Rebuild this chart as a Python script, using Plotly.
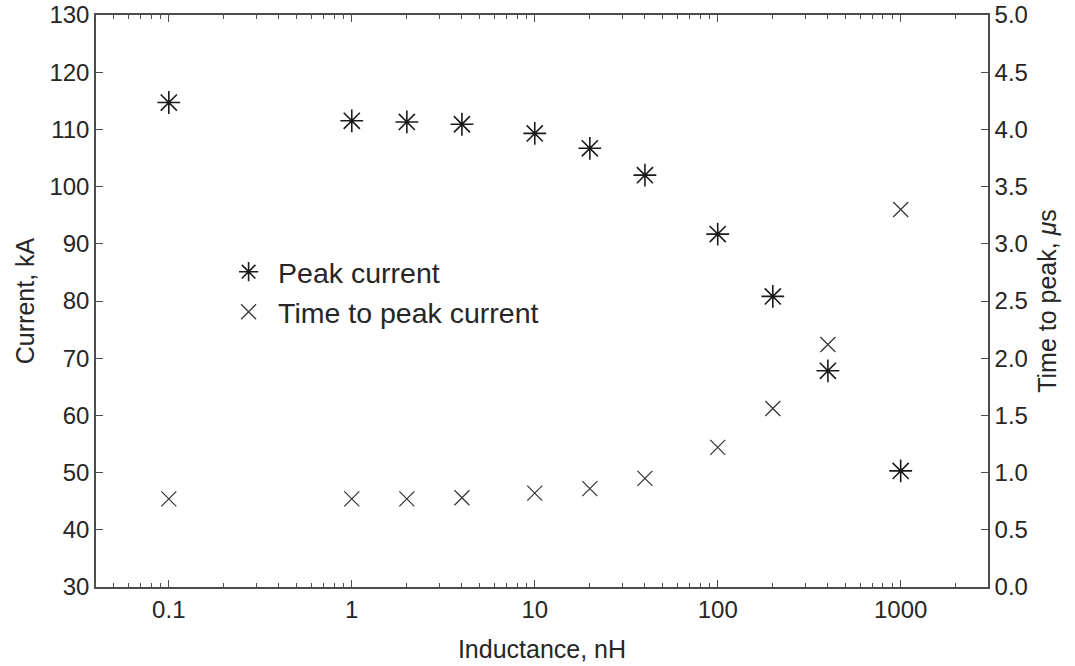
import plotly.graph_objects as go
import math

inductance = [0.1, 1, 2, 4, 10, 20, 40, 100, 200, 400, 1000]
peak_current = [114.7, 111.5, 111.3, 110.9, 109.3, 106.7, 102.0, 91.7, 80.8, 67.8, 50.3]
time_to_peak = [0.77, 0.77, 0.77, 0.78, 0.82, 0.86, 0.95, 1.22, 1.56, 2.12, 3.30]

x_ticks = [0.1, 1, 10, 100, 1000]
x_ticklabels = ["0.1", "1", "10", "100", "1000"]

axis_col = "#4d4d4d"
text_col = "#262626"
font_family = "Liberation Sans, Arial, sans-serif"

fig = go.Figure()
fig.add_trace(go.Scatter(
    x=inductance, y=peak_current, mode="markers", name="Peak current",
    marker=dict(symbol="asterisk-open", size=19, color="#1a1a1a",
                line=dict(width=1.6, color="#1a1a1a")),
    yaxis="y"))
fig.add_trace(go.Scatter(
    x=inductance, y=time_to_peak, mode="markers", name="Time to peak current",
    marker=dict(symbol="x-thin-open", size=15, color="#333333",
                line=dict(width=1.2, color="#333333")),
    yaxis="y2"))

fig.update_layout(
    width=1075, height=666,
    paper_bgcolor="white", plot_bgcolor="white",
    margin=dict(l=96, r=87, t=15, b=79, autoexpand=False),
    font=dict(family=font_family, color=text_col, size=24),
    showlegend=True,
    legend=dict(x=0.138, y=0.595, xanchor="left", yanchor="top",
                bgcolor="rgba(0,0,0,0)", font=dict(size=28.5),
                itemwidth=49, itemsizing="trace", tracegroupgap=4),
    xaxis=dict(
        type="log", range=[math.log10(0.04), math.log10(3000)],
        tickvals=x_ticks, ticktext=x_ticklabels,
        ticks="inside", ticklen=7, tickwidth=1.2, tickcolor=axis_col,
        showline=True, linecolor=axis_col, linewidth=1.5, mirror="ticks",
        showgrid=False, zeroline=False, automargin=False,
        ticklabeloverflow="allow",
        tickfont=dict(size=24),
        minor=dict(ticks="inside", ticklen=4, tickwidth=1, tickcolor=axis_col,
                   dtick="D1", showgrid=False),
        title=dict(text="Inductance, nH", font=dict(size=25), standoff=19),
    ),
    yaxis=dict(
        range=[30, 130], dtick=10,
        ticks="inside", ticklen=7, tickwidth=1.2, tickcolor=axis_col,
        showline=True, linecolor=axis_col, linewidth=1.5,
        showgrid=False, zeroline=False, automargin=False,
        ticklabeloverflow="allow",
        tickfont=dict(size=24),
        title=dict(text="Current, kA", font=dict(size=25), standoff=8),
    ),
    yaxis2=dict(
        range=[0, 5], dtick=0.5, tickformat=".1f",
        overlaying="y", side="right",
        ticks="inside", ticklen=7, tickwidth=1.2, tickcolor=axis_col,
        showline=True, linecolor=axis_col, linewidth=1.5,
        showgrid=False, zeroline=False, automargin=False,
        ticklabeloverflow="allow",
        tickfont=dict(size=24),
        title=dict(text="Time to peak, <i>μ</i>s", font=dict(size=25), standoff=12),
    ),
)

fig.write_html(
    "out.html",
    config={"displayModeBar": False},
    post_script="document.body.style.margin='0px'; document.body.style.overflow='hidden';",
)
